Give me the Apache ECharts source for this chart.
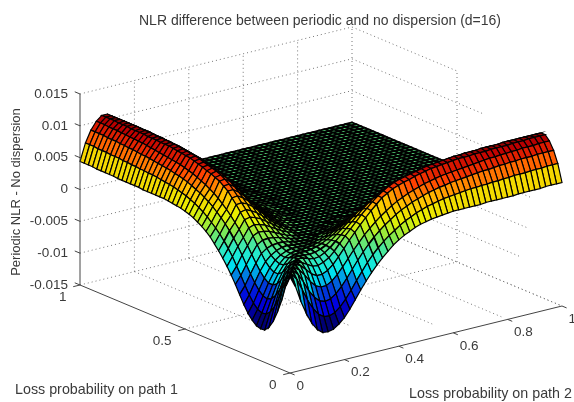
<!DOCTYPE html>
<html>
<head>
<meta charset="utf-8">
<title>NLR difference</title>
<script src="https://cdn.jsdelivr.net/npm/echarts@6/dist/echarts.min.js"></script>
<style>
  html, body { margin: 0; padding: 0; background: #fff; }
  #chart { width: 574px; height: 402px; }
</style>
</head>
<body>
<div id="chart"></div>
<script>
const xTicks = [0, 0.2, 0.4, 0.6, 0.8, 1];
const yTicks = [0, 0.5, 1];
const zTicks = [-0.015, -0.01, -0.005, 0, 0.005, 0.01, 0.015];
const zTickLabels = ['-0.015', '-0.01', '-0.005', '0', '0.005', '0.01', '0.015'];

// surface, grid step 0.02, in units of 1e-4
// row i holds z(i, j) for j = i..50, the surface mirrors across p1 = p2, further rows are flat 0
const gridSize = 51;
const surfaceRows = [
  [2,-16,-42,-63,-80,-92,-99,-100,-98,-92,-84,-73,-60,-47,-35,-24,-14,-5,3,11,17,22,26,30,33,35,37,38,39,40,41,41,41,41,41,41,42,42,42,42,42,42,43,43,43,43,43,44,44,44,44],
  [1,-10,-28,-47,-62,-73,-79,-80,-77,-70,-60,-48,-35,-23,-11,-1,8,16,23,29,35,40,44,48,51,54,56,58,60,61,62,63,64,65,65,66,66,67,67,68,68,69,69,69,70,70,70,71,71,71],
  [1,-7,-21,-37,-49,-57,-60,-58,-52,-43,-32,-20,-8,3,13,22,30,37,43,49,54,58,62,65,68,71,73,75,76,78,79,80,81,82,83,84,84,85,86,86,87,87,88,88,88,89,89,89,89],
  [1,-5,-15,-27,-36,-40,-40,-35,-27,-17,-6,5,15,25,33,41,48,54,60,65,69,73,76,79,82,84,86,88,89,90,91,92,93,94,95,96,97,97,98,98,99,99,100,100,100,101,101,101],
  [1,-3,-11,-20,-25,-25,-21,-14,-4,7,18,28,38,47,56,64,72,77,82,85,88,90,93,95,97,99,100,101,102,103,104,104,104,105,105,105,106,106,106,106,107,107,107,108,108,108,108],
  [0,-3,-8,-13,-14,-11,-6,2,12,22,31,40,49,57,65,72,78,83,87,90,92,94,96,98,100,101,102,103,104,105,105,106,106,106,107,107,107,107,108,108,108,108,108,108,108,108],
  [0,-1,-4,-6,-5,-1,5,13,21,29,37,45,53,60,66,72,77,81,84,87,89,91,93,94,95,96,97,98,99,99,100,100,101,101,101,102,102,102,102,102,102,102,102,102,102],
  [0,-1,-2,-1,2,6,12,19,26,33,40,47,53,58,63,67,71,74,77,79,81,83,84,85,86,87,88,88,89,89,90,90,90,91,91,91,91,92,92,92,92,92,92,92],
  [0,0,1,3,6,10,15,21,27,33,39,44,49,53,57,60,63,65,67,69,70,71,72,73,74,74,75,75,76,76,76,77,77,77,77,78,78,78,78,78,78,78,78],
  [0,1,2,4,7,11,16,21,26,31,35,39,43,46,49,51,53,55,56,57,58,59,60,60,61,61,61,62,62,62,62,63,63,63,63,63,63,64,64,64,64,64],
  [0,1,2,4,7,11,15,19,23,27,30,33,36,38,40,41,43,44,45,46,46,47,47,48,48,48,49,49,49,49,49,49,49,50,50,50,50,50,50,50,50],
  [0,1,2,4,7,10,13,16,19,22,24,26,28,30,31,32,33,34,35,35,36,36,36,37,37,37,37,37,37,37,37,37,38,38,38,38,38,38,38,38],
  [0,1,2,4,6,8,10,13,15,17,19,20,21,22,23,24,25,25,26,26,26,27,27,27,27,27,27,27,28,28,28,28,28,28,28,28,28,28,28],
  [0,1,1,2,4,5,7,8,10,11,13,14,15,16,16,17,18,18,18,19,19,19,19,19,19,19,20,20,20,20,20,20,20,20,20,20,20,20],
  [0,0,1,2,3,4,5,6,7,8,9,10,10,11,11,12,12,12,13,13,13,13,13,13,14,14,14,14,14,14,14,14,14,14,14,14,14],
  [0,0,1,1,2,3,3,4,5,5,6,6,7,7,7,8,8,8,8,8,8,8,9,9,9,9,9,9,9,9,9,9,9,9,9,9],
  [0,0,0,1,1,1,2,2,3,3,3,4,4,4,4,4,4,4,5,5,5,5,5,5,5,5,5,5,5,5,5,5,5,5,5],
  [0,0,0,0,1,1,1,1,1,2,2,2,2,2,2,2,2,2,3,3,3,3,3,3,3,3,3,3,3,3,3,3,3,3],
  [0,0,0,0,0,0,1,1,1,1,1,1,1,1,1,1,2,2,2,2,2,2,2,2,2,2,2,2,2,2,2,2,2],
  [0,0,0,0,0,0,0,0,0,0,1,1,1,1,1,1,1,1,1,1,1,1,1,1,1,1,1,1,1,1,1,1]
];

// where the dotted lines stop in the reference, they do not all reach the edge of the box
const wallLineStops = [0, 0.2, 0.17, 0.14, 0.37, 0.37, 0.5];
const floorLineStarts = [0, 0.45, 0.24, 0.1, 0.03, 0];

const surfaceColors = ['#000070', '#0000e0', '#0040d8', '#00e8f0', '#30e8c0', '#80e850', '#e8f000', '#ffc000', '#ff4000', '#c00000', '#500000'];

// the chart is a fixed 3d view, so box axes are just a linear map onto the page
const origin = [290, 373];
const xDir = [272, -67];
const yDir = [-210, -88];
const zScale = 6367;
const zMin = -0.015;
const zMax = 0.015;
const textFont = '"Liberation Sans", Arial, sans-serif';

function project(x, y, z) {
  return [
    origin[0] + xDir[0] * x + yDir[0] * y,
    origin[1] + xDir[1] * x + yDir[1] * y - (z - zMin) * zScale
  ];
}

function surfaceZ(i, j) {
  const a = Math.min(i, j), b = Math.max(i, j);
  if (a >= surfaceRows.length) return 0;
  return surfaceRows[a][b - a] / 10000;
}

function nodePoint(api, i, j) {
  return api.coord(project(i / (gridSize - 1), j / (gridSize - 1), surfaceZ(i, j)));
}

// back to front, so nearer cells paint over farther ones
const cells = [];
for (let i = gridSize - 2; i >= 0; i--) {
  for (let j = gridSize - 2; j >= 0; j--) {
    cells.push([i, j, surfaceZ(i, j)]);
  }
}

// dotted box grid: [x1, y1, z1, x2, y2, z2]
const gridLines = [];
zTicks.forEach((z, k) => {
  gridLines.push([0, 1, z, 1, 1, z]);
  gridLines.push([1, 1, z, 1, wallLineStops[k], z]);
});
xTicks.forEach((x, k) => {
  if (x === 0) return;
  gridLines.push([x, 1, zMin, x, 1, zMax]);
  gridLines.push([x, 1, zMin, x, floorLineStarts[k], zMin]);
});
gridLines.push([1, 0.5, zMin, 1, 0.5, zMax]);
gridLines.push([0, 0.5, zMin, 1, 0.5, zMin]);

// solid axes and tick marks
const axisLines = [
  [0, 1, zMin, 0, 1, zMax],
  [0, 1, zMin, 0, 0, zMin],
  [0, 0, zMin, 1, 0, zMin]
];
xTicks.forEach(x => axisLines.push([x, 0, zMin, x, -0.022, zMin]));
yTicks.forEach(y => axisLines.push([0, y, zMin, -0.025, y, zMin]));
zTicks.forEach(z => axisLines.push([0, 1, z, 0, 1.025, z]));

function segmentItem(style) {
  return (params, api) => {
    const a = api.coord(project(api.value(0), api.value(1), api.value(2)));
    const b = api.coord(project(api.value(3), api.value(4), api.value(5)));
    return {
      type: 'line',
      shape: { x1: a[0], y1: a[1], x2: b[0], y2: b[1] },
      style: style
    };
  };
}

function labelItem(align) {
  return (params, api) => {
    const p = api.coord(project(api.value(0), api.value(1), api.value(2)));
    return {
      type: 'text',
      x: p[0] + api.value(3),
      y: p[1] + api.value(4),
      style: {
        text: api.value(5),
        textAlign: align,
        textVerticalAlign: 'middle',
        fill: '#3a3a3a',
        font: '13.5px ' + textFont
      }
    };
  };
}

const labelDims = { dimensions: [null, null, null, null, null, { type: 'ordinal' }] };

const chart = echarts.init(document.getElementById('chart'), null, { renderer: 'canvas' });
chart.setOption({
  animation: false,
  backgroundColor: '#fff',
  title: {
    text: 'NLR difference between periodic and no dispersion (d=16)',
    left: 134,
    top: 9,
    textStyle: { color: '#3a3a3a', fontSize: 14, fontWeight: 'normal', fontFamily: textFont }
  },
  grid: { left: 0, right: 0, top: 0, bottom: 0 },
  xAxis: { type: 'value', min: 0, max: 574, show: false },
  yAxis: { type: 'value', min: 0, max: 402, inverse: true, show: false },
  visualMap: {
    show: false,
    seriesIndex: 1,
    dimension: 2,
    min: -0.01,
    max: 0.012,
    inRange: { color: surfaceColors }
  },
  series: [
    {
      type: 'custom',
      coordinateSystem: 'cartesian2d',
      silent: true,
      z: 1,
      data: gridLines,
      renderItem: segmentItem({ stroke: '#777', lineWidth: 1, lineDash: [1, 3], fill: null })
    },
    {
      type: 'custom',
      coordinateSystem: 'cartesian2d',
      silent: true,
      z: 2,
      data: cells,
      renderItem: (params, api) => {
        const i = api.value(0), j = api.value(1);
        // the flat part reads almost black in the reference, the mesh is tighter there
        const flat = Math.abs(api.value(2)) < 0.0003;
        return {
          type: 'polygon',
          shape: { points: [nodePoint(api, i, j), nodePoint(api, i + 1, j), nodePoint(api, i + 1, j + 1), nodePoint(api, i, j + 1)] },
          style: { fill: api.visual('color'), stroke: '#000', lineWidth: flat ? 1.8 : 1.2 }
        };
      }
    },
    {
      type: 'custom',
      coordinateSystem: 'cartesian2d',
      silent: true,
      z: 3,
      data: axisLines,
      renderItem: segmentItem({ stroke: '#444', lineWidth: 1, fill: null })
    },
    {
      type: 'custom',
      coordinateSystem: 'cartesian2d',
      silent: true,
      z: 4,
      ...labelDims,
      data: xTicks.map(x => [x, 0, zMin, 6.5, 13, String(x)]),
      renderItem: labelItem('left')
    },
    {
      type: 'custom',
      coordinateSystem: 'cartesian2d',
      silent: true,
      z: 4,
      ...labelDims,
      data: yTicks.map(y => [0, y, zMin, -13.5, 12, String(y)]),
      renderItem: labelItem('right')
    },
    {
      type: 'custom',
      coordinateSystem: 'cartesian2d',
      silent: true,
      z: 4,
      ...labelDims,
      data: zTicks.map((z, k) => [0, 1, z, -12, 0, zTickLabels[k]]),
      renderItem: labelItem('right')
    }
  ],
  graphic: [
    { type: 'text', left: 15, top: 383, style: { text: 'Loss probability on path 1', fill: '#3a3a3a', font: '14.3px ' + textFont } },
    { type: 'text', left: 409, top: 387, style: { text: 'Loss probability on path 2', fill: '#3a3a3a', font: '14.3px ' + textFont } },
    { type: 'text', x: 16, y: 192, rotation: Math.PI / 2, style: { text: 'Periodic NLR - No dispersion', fill: '#3a3a3a', textAlign: 'center', textVerticalAlign: 'middle', font: '13px ' + textFont } }
  ]
});
</script>
</body>
</html>
